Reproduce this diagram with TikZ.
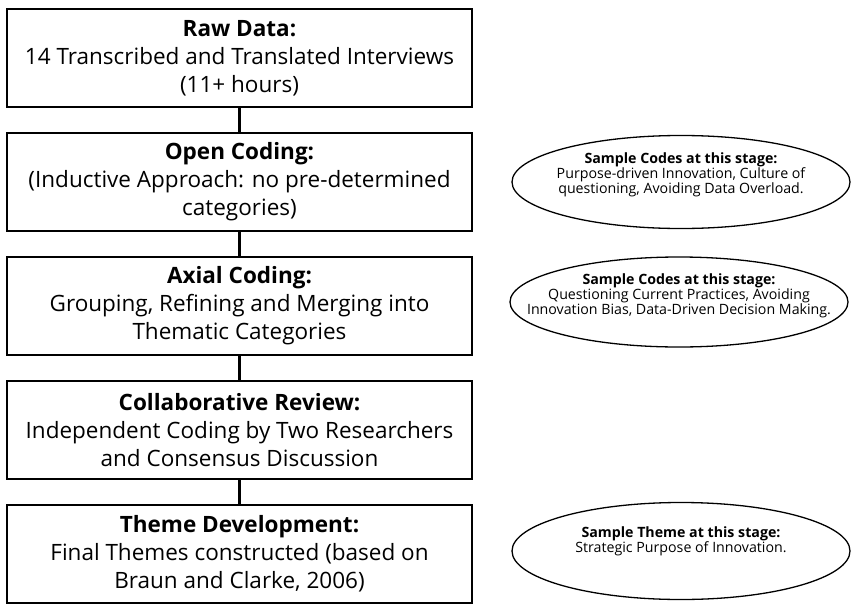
\documentclass[tikz,border=0pt]{standalone}
\usepackage{fontspec}
\setmainfont{Open Sans}
\usetikzlibrary{positioning}
\usetikzlibrary{shapes.geometric}

\begin{document}
\begin{tikzpicture}[x=1pt,y=1pt,
	stagebox/.style={draw=black,line width=1.6pt,minimum width=465pt,minimum height=98pt,outer sep=0pt,inner sep=0pt,align=center,font=\fontsize{22.5}{28}\selectfont},
	samplebox/.style={ellipse,draw=black,line width=1.3pt,minimum width=338pt,minimum height=93pt,outer sep=0pt,inner xsep=-60pt,inner ysep=0pt,align=center,font=\fontsize{14.2}{15}\selectfont},
	link/.style={line width=2.2pt}]
	\useasboundingbox (0,0) rectangle (851,-605);
	\clip (0,0) rectangle (851,-603);

	\node [stagebox,anchor=north west] at (7,-9) (raw_data) {\textbf{Raw Data:}\\14 Transcribed and Translated Interviews\\(11+ hours)};
	\node [stagebox,below=26pt of raw_data] (open_coding) {\textbf{Open Coding:}\\(Inductive Approach: no pre-determined\\categories)};
	\node [stagebox,below=26pt of open_coding] (axial_coding) {\textbf{Axial Coding:}\\Grouping, Refining and Merging into\\Thematic Categories};
	\node [stagebox,below=26pt of axial_coding] (collab_review) {\textbf{Collaborative Review:}\\Independent Coding by Two Researchers\\and Consensus Discussion};
	\node [stagebox,below=26pt of collab_review] (theme_dev) {\textbf{Theme Development:}\\Final Themes constructed (based on\\Braun and Clarke, 2006)};

	\draw [link] (raw_data) -- (open_coding);
	\draw [link] (open_coding) -- (axial_coding);
	\draw [link] (axial_coding) -- (collab_review);
	\draw [link] (collab_review) -- (theme_dev);

	\node [samplebox,text depth=18pt,right=40pt of open_coding] (sample_open) {\textbf{Sample Codes at this stage:}\\Purpose-driven Innovation, Culture of\\questioning, Avoiding Data Overload.};
	\node [samplebox,text depth=16pt,minimum height=90pt,right=38pt of axial_coding,yshift=4pt] (sample_axial) {\textbf{Sample Codes at this stage:}\\Questioning Current Practices, Avoiding\\Innovation Bias, Data-Driven Decision Making.};
	\node [samplebox,text depth=22pt,minimum height=97pt,right=40pt of theme_dev,yshift=3pt] (sample_theme) {\textbf{Sample Theme at this stage:}\\Strategic Purpose of Innovation.};
\end{tikzpicture}
\end{document}
